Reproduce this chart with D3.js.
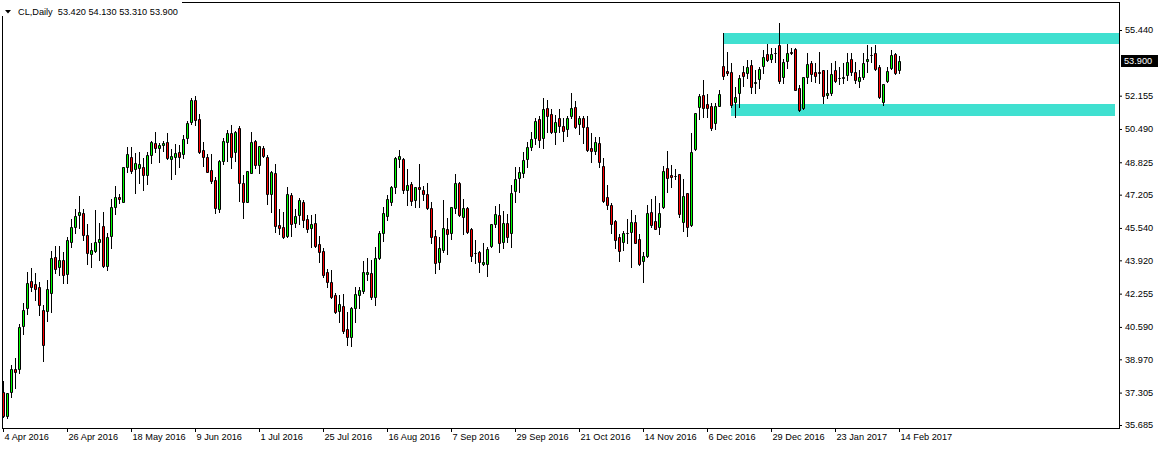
<!DOCTYPE html>
<html><head><meta charset="utf-8">
<script src="https://cdn.jsdelivr.net/npm/d3@7"></script>
<style>
body{margin:0;background:#fff;}
svg{display:block;font-family:"Liberation Sans",Arial,sans-serif;}
</style></head><body>
<svg id="c" width="1159" height="449"></svg>
<script>
// ---- data (CL, Daily) ----
const openP = [37.34,36.155,37.355,38.475,38.49,40.655,41.555,42.89,42.74,42.59,41.44,41.405,42.29,44.09,43.575,43.925,43.225,44.855,45.605,46.205,
46.275,45.19,44.225,44.405,44.855,45.64,43.655,45.155,46.605,47.075,46.855,48.575,49.075,48.475,48.525,48.575,48.19,49.19,49.775,49.525,
49.69,49.825,48.99,49.075,49.325,49.225,50.025,50.825,51.94,50.975,49.425,49.075,48.425,47.925,46.49,48.905,49.825,50.275,49.355,50.525,
47.775,46.825,48.305,49.89,48.69,49.525,49.105,47.225,48.275,45.69,45.575,45.155,47.19,45.775,46.19,46.825,45.975,45.525,45.775,44.725,
44.39,43.325,42.855,42.19,41.405,41.64,40.475,40.105,41.525,42.19,42.405,43.24,43.275,42.105,44.025,45.305,46.14,46.855,47.575,48.975,
48.99,47.44,47.74,46.94,47.575,47.44,47.24,46.525,45.14,43.855,44.44,45.475,45.275,46.525,47.775,46.075,46.525,45.475,44.275,44.325,
43.74,43.725,44.655,45.725,46.19,44.855,45.775,45.275,47.39,48.055,48.305,48.99,49.605,50.025,50.99,50.025,51.525,51.225,50.355,51.025,
50.655,50.475,51.155,51.605,50.725,51.025,50.605,49.525,49.405,49.805,48.64,47.075,46.69,45.89,45.105,44.855,45.29,45.355,45.825,44.975,
43.905,44.14,46.325,45.89,45.605,46.605,48.525,48.19,48.155,48.225,45.825,47.275,45.69,49.475,51.575,52.19,51.74,51.64,50.775,51.655,
53.64,53.39,53.325,51.855,52.275,53.325,53.275,53.69,52.775,52.975,53.64,54.225,53.975,54.275,54.69,53.075,53.905,54.355,54.475,52.525,
51.525,53.075,53.805,53.325,53.355,53.44,52.19,52.305,53.44,53.025,53.025,53.19,53.975,53.355,52.89,53.075,53.905,54.19,54.275,53.575,
51.825,52.89,53.525,54.225,53.42];
const highP = [37.89,37.3,38.69,39.04,40.74,41.79,43.355,43.54,43.29,42.855,41.69,42.94,44.39,44.64,44.64,44.355,45.105,45.975,46.475,47.14,
46.475,45.725,44.805,46.44,45.775,46.355,45.275,46.975,47.64,47.24,48.59,49.575,49.575,49.275,49.325,49.055,49.355,49.89,50.325,49.775,
49.89,50.275,49.475,49.725,49.69,50.19,50.89,52.025,52.14,51.225,49.825,49.225,49.24,48.105,48.925,50.025,50.44,50.69,50.39,50.64,
48.19,48.39,50.355,49.94,49.64,49.64,49.19,48.39,48.74,46.49,46.325,47.575,47.275,46.49,47.055,46.94,46.19,46.19,46.24,45.14,
44.525,43.475,43.44,42.275,42.19,42.24,41.355,41.605,42.605,42.605,43.89,44.025,43.94,44.575,45.405,46.605,47.19,47.64,49.105,49.44,
49.025,48.475,47.855,47.605,48.74,47.64,47.775,46.855,45.44,45.105,46.94,46.055,46.605,48.225,47.84,46.99,46.59,45.525,44.94,44.39,
44.775,44.605,45.725,46.64,46.74,46.39,46.225,47.69,48.605,48.605,49.355,49.855,50.355,51.025,51.155,52.025,51.94,51.49,51.19,51.49,
51.025,51.155,52.275,51.89,51.155,51.155,51.14,50.305,50.105,50.105,49.055,47.69,46.805,45.94,45.24,45.405,45.975,46.44,46.19,45.24,
44.355,46.69,46.99,47.14,46.775,48.64,49.39,48.69,48.475,48.225,47.99,47.305,50.305,51.305,52.24,52.94,52.24,51.775,51.775,52.44,
55.275,54.325,53.805,52.605,53.19,53.64,53.94,53.94,53.44,53.575,54.44,54.74,54.525,54.525,55.775,53.975,54.74,54.54,54.525,52.69,
53.09,54.275,53.905,53.775,54.355,53.44,53.44,53.805,53.905,53.605,53.775,54.275,54.275,53.855,53.44,54.275,54.69,54.605,54.69,53.69,
52.725,53.605,54.44,54.305,54.13];
const lowP = [36.09,36.055,37.105,37.555,38.305,40.24,41.24,42.405,41.94,41.19,38.905,40.905,41.355,43.29,43.19,42.805,42.775,44.605,45.305,45.525,
44.94,43.74,43.605,44.325,43.94,43.6,43.44,44.525,46.225,46.775,46.84,48.355,48.275,47.305,47.775,47.44,47.74,48.775,49.355,48.855,
49.39,48.975,47.975,48.225,48.605,49.025,49.775,50.725,50.69,49.305,48.655,48.325,47.775,46.305,46.355,48.74,48.89,48.525,48.89,46.89,
46.055,46.825,48.275,48.525,48.275,49.09,46.725,46.355,45.355,45.24,45.025,45.105,45.155,45.605,45.725,45.565,45.355,44.605,44.605,43.855,
43.105,42.605,42.025,41.275,40.855,40.275,39.69,39.655,40.855,41.525,42.305,42.94,41.975,41.69,43.975,44.905,45.94,46.69,47.305,48.605,
47.305,46.69,46.69,46.605,46.605,46.94,46.475,44.775,43.275,43.475,44.355,44.24,44.99,46.275,46.14,45.225,45.305,43.89,43.775,43.355,
43.69,43.155,44.605,45.605,44.355,44.555,44.825,44.605,46.855,47.325,48.105,48.605,49.44,49.725,49.605,49.555,50.355,50.305,49.725,50.355,
49.89,50.155,51.025,50.525,50.225,49.775,49.39,48.855,49.24,48.605,46.855,46.475,45.275,44.525,43.905,44.44,44.775,43.575,44.775,43.69,
42.855,44.105,45.605,45.475,45.24,46.525,47.355,47.605,47.975,46.105,45.405,45.14,45.64,49.44,51.0,51.105,51.075,50.44,50.475,51.64,
52.975,53.19,51.575,51.105,51.605,52.655,53.025,52.305,52.305,52.525,53.305,53.905,53.855,53.855,52.775,52.775,53.525,54.24,52.44,51.405,
51.49,52.805,52.905,52.855,52.775,51.775,52.025,52.19,52.855,52.74,52.775,52.94,53.19,52.775,52.605,52.975,53.355,53.855,53.44,52.025,
51.69,52.855,53.475,53.225,53.31];
const closeP = [36.14,37.275,38.49,38.325,40.59,41.44,42.79,42.605,42.505,41.705,39.705,42.49,44.04,43.505,43.94,43.19,44.94,45.575,46.155,46.325,
45.19,44.275,44.44,44.825,44.99,43.655,45.075,46.575,47.075,46.975,48.575,49.24,48.405,48.775,48.725,48.19,49.19,49.825,49.525,49.69,
49.79,49.025,49.14,49.275,49.105,49.99,50.775,51.94,50.925,49.355,49.075,48.355,47.905,46.525,48.89,49.89,50.275,49.105,50.325,47.775,
46.825,48.39,49.825,48.69,49.64,49.155,47.225,48.325,45.655,45.54,45.105,47.225,45.725,46.155,46.94,45.94,45.475,45.725,44.64,44.355,
43.19,42.855,42.105,41.355,41.74,40.405,40.105,41.525,42.225,42.44,43.325,43.325,42.075,44.025,45.275,46.305,46.975,47.575,49.025,49.14,
47.44,47.69,46.905,47.575,47.49,47.24,46.525,45.105,43.805,44.525,45.525,45.24,46.575,47.775,46.19,46.525,45.355,44.155,44.275,43.825,
43.825,44.475,45.725,46.225,44.775,45.775,45.105,47.275,47.975,48.325,48.94,49.575,49.99,50.89,49.94,51.49,51.155,50.355,50.825,50.655,
50.39,51.025,51.525,50.605,51.025,50.575,49.44,49.39,49.855,48.855,46.89,46.69,45.725,44.94,44.405,45.275,45.29,45.855,44.775,43.725,
44.14,46.275,45.69,45.475,46.275,48.39,48.025,48.075,48.155,46.24,47.14,45.575,49.325,51.275,52.14,51.525,51.525,50.525,51.64,52.24,
53.14,53.275,51.69,52.075,53.025,53.14,53.575,52.605,52.825,53.475,54.105,53.94,54.225,54.275,52.905,53.855,54.275,54.275,52.44,51.44,
53.075,53.74,53.225,53.155,53.275,52.14,52.275,53.24,52.905,53.025,53.105,53.855,53.355,52.94,53.075,53.805,53.975,54.19,53.475,52.075,
52.725,53.405,54.19,53.305,53.90];

const priceTicks = [55.440, 52.155, 50.490, 48.825, 47.205, 45.540, 43.920, 42.255, 40.590, 38.970, 37.305, 35.685];
const dateLabels = ["4 Apr 2016","26 Apr 2016","18 May 2016","9 Jun 2016","1 Jul 2016","25 Jul 2016","16 Aug 2016",
  "7 Sep 2016","29 Sep 2016","21 Oct 2016","14 Nov 2016","6 Dec 2016","29 Dec 2016","23 Jan 2017","14 Feb 2017"];
const dateLabelBars = [0,16,32,48,64,80,96,112,128,144,160,176,192,208,224];

// rectangles (supply / demand zones): bar index start/end, price top/bottom
const zoneStart = [180, 182];
const zoneEnd = [300, 278];
const zoneTop = [55.275, 51.74];
const zoneBottom = [54.715, 51.155];

const symbolTitle = "CL,Daily";

// ---- drawing ----
const FS = "9.2px";
const plotL = 2, plotT = 2, plotR = 1119, plotB = 428;
const N = closeP.length;
const svg = d3.select("#c");

const x = d3.scaleLinear().domain([0, N - 1]).range([3, 3 + 4 * (N - 1)]);
const y = d3.scaleLinear().domain([35.685, 55.44]).range([425, 30]);

svg.append("defs").append("clipPath").attr("id", "clip")
  .append("rect").attr("x", plotL + 1).attr("y", plotT + 1)
  .attr("width", plotR - plotL - 1).attr("height", plotB - plotT - 1);

const plot = svg.append("g").attr("clip-path", "url(#clip)");

// zones
plot.selectAll("rect.zone").data(zoneStart.map((s, k) => k)).join("rect")
  .attr("class", "zone")
  .attr("x", k => Math.round(x(zoneStart[k])))
  .attr("y", k => Math.round(y(zoneTop[k])))
  .attr("width", k => Math.round(x(zoneEnd[k])) - Math.round(x(zoneStart[k])))
  .attr("height", k => Math.round(y(zoneBottom[k])) - Math.round(y(zoneTop[k])))
  .attr("fill", "#40E0D0");

const bars = d3.range(N).map(i => ({i, o: openP[i], h: highP[i], l: lowP[i], c: closeP[i]}));

// wicks
plot.selectAll("line.wick").data(bars).join("line")
  .attr("class", "wick")
  .attr("x1", d => x(d.i) + 0.5).attr("x2", d => x(d.i) + 0.5)
  .attr("y1", d => Math.round(y(d.h)))
  .attr("y2", d => Math.round(y(d.l)) + 1)
  .attr("stroke", "#000").attr("stroke-width", 1)
  .attr("shape-rendering", "crispEdges");

// bodies
plot.selectAll("path.body").data(bars).join("path")
  .attr("class", "body")
  .attr("d", d => {
    const t = Math.round(y(Math.max(d.o, d.c)));
    const b = Math.round(y(Math.min(d.o, d.c)));
    const x0 = x(d.i) - 0.5;
    return `M${x0},${t + 0.5}H${x0 + 2}V${b + 0.5}H${x0}Z`;
  })
  .attr("fill", d => d.c > d.o ? "#00FF00" : (d.c < d.o ? "#FF0000" : "none"))
  .attr("stroke", "#000").attr("stroke-width", 1);

// frame
svg.append("rect").attr("x", plotL + 0.5).attr("y", plotT + 0.5)
  .attr("width", plotR - plotL).attr("height", plotB - plotT)
  .attr("fill", "none").attr("stroke", "#000").attr("stroke-width", 1);

// price axis
const yAxis = d3.axisRight(y).tickValues(priceTicks).tickFormat(d3.format(".3f"))
  .tickSize(3).tickPadding(3);
const gy = svg.append("g").attr("transform", `translate(${plotR},0)`).call(yAxis);
gy.select(".domain").remove();
gy.selectAll("text").attr("fill", "#000").style("font-size", FS)
  .style("font-family", '"Liberation Sans", Arial, sans-serif');
gy.selectAll("line").attr("stroke", "#000");

// date axis
const xAxis = d3.axisBottom(x).tickValues(dateLabelBars)
  .tickFormat((d, k) => dateLabels[k]).tickSize(4).tickPadding(1);
const gx = svg.append("g").attr("transform", `translate(0,${plotB})`).call(xAxis);
gx.select(".domain").remove();
gx.selectAll("text").attr("fill", "#000").attr("text-anchor", "start").attr("x", 1)
  .style("font-size", FS).style("font-family", '"Liberation Sans", Arial, sans-serif');
gx.selectAll("line").attr("stroke", "#000");

// last price tag
const last = closeP[N - 1];
const ly = Math.round(y(last));
svg.append("rect").attr("x", plotR + 2).attr("y", ly - 6).attr("width", 37).attr("height", 12).attr("fill", "#000");
svg.append("text").attr("x", plotR + 5).attr("y", ly).attr("dy", "0.34em")
  .attr("fill", "#fff").style("font-size", FS).text(d3.format(".3f")(last));

// title
const titleText = `${symbolTitle}  ${d3.format(".3f")(openP[N-1])} ${d3.format(".3f")(highP[N-1])} ${d3.format(".3f")(lowP[N-1])} ${d3.format(".3f")(closeP[N-1])}`;
svg.append("rect").attr("x", 0).attr("y", 0).attr("width", 182).attr("height", 16).attr("fill", "#fff");
svg.append("path").attr("d", "M5,10H11L8,13.5Z").attr("fill", "#000");
svg.append("text").attr("x", 18).attr("y", 14.5).attr("fill", "#000")
  .style("font-size", FS).style("white-space", "pre").attr("xml:space", "preserve").text(titleText);
</script>
</body></html>
